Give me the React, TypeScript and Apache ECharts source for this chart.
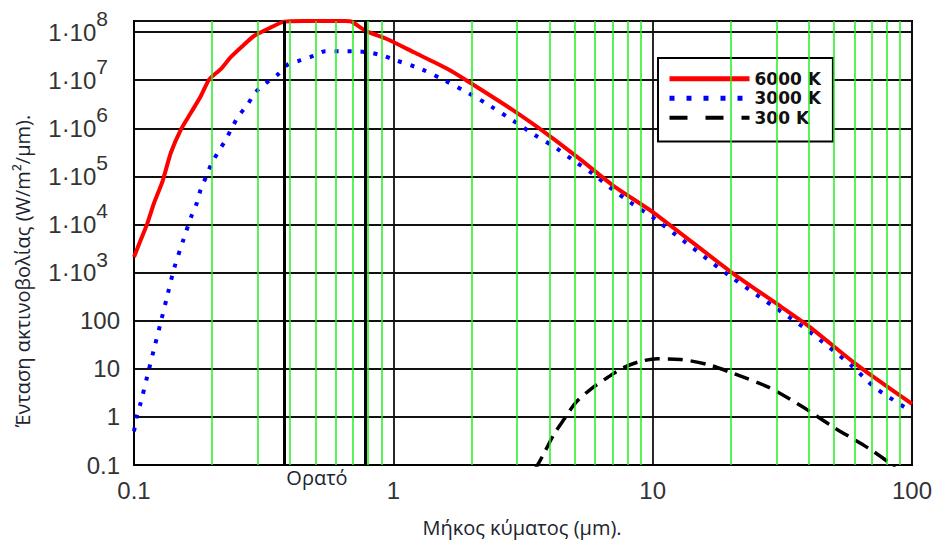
import React, { useEffect, useRef } from "react";
import * as echarts from "echarts";

// Wavelength (µm) and spectral exitance (W/m²/µm)
const wavelengths6000 = [0.1, 0.1062, 0.1127, 0.1195, 0.1288, 0.1387, 0.1516, 0.1657, 0.1811, 0.195, 0.216, 0.236, 0.262, 0.29, 0.337, 0.379, 0.45, 0.55, 0.65, 0.69, 0.783, 0.95, 1.2, 1.62, 1.93, 2.92, 3.94, 5.29, 7.1, 10.1, 20, 29.4, 39.6, 58.4, 71.5, 100];
const values6000 = [2.1e3, 4.8e3, 1.07e4, 2.8e4, 7.9e4, 3.1e5, 9.4e5, 2.1e6, 4.7e6, 1.04e7, 1.7e7, 3.0e7, 5.1e7, 8.3e7, 1.25e8, 1.65e8, 1.7e8, 1.7e8, 1.7e8, 1.65e8, 1.06e8, 7.1e7, 3.8e7, 1.7e7, 9.6e6, 2.3e6, 7.4e5, 2.2e5, 6.2e4, 1.75e4, 1.04e3, 245, 80, 14.8, 6.6, 1.86];

const wavelengths3000 = [0.1, 0.1026, 0.1062, 0.1127, 0.1195, 0.1269, 0.1346, 0.1428, 0.155, 0.167, 0.1747, 0.181, 0.19, 0.199, 0.211, 0.226, 0.2383, 0.254, 0.274, 0.293, 0.3223, 0.3575, 0.391, 0.44, 0.493, 0.549, 0.618, 0.706, 0.795, 0.9, 1.0, 1.28, 1.57, 1.96, 2.38, 2.92, 3.49, 4.24, 4.98, 5.95, 6.9, 8.11, 10.1, 20, 29.4, 39.6, 58.4, 71.5, 96, 100];
const values3000 = [0.5, 1.05, 2.0, 7.3, 26, 94, 340, 1.22e3, 4.8e3, 1.56e4, 2.8e4, 5.5e4, 1e5, 1.84e5, 3.2e5, 5.8e5, 1.02e6, 1.85e6, 3.1e6, 5.5e6, 8.6e6, 1.3e7, 2.1e7, 2.6e7, 3.2e7, 4.0e7, 4.0e7, 4.0e7, 3.8e7, 3.3e7, 2.7e7, 1.7e7, 1.0e7, 5.3e6, 2.85e6, 1.4e6, 7.4e5, 3.9e5, 2.1e5, 1.08e5, 5.7e4, 3.0e4, 1.35e4, 820, 194, 63, 11.7, 4.2, 1.46, 1.3];

const wavelengths300 = [3.5, 3.6, 3.82, 4.17, 4.56, 5.06, 5.78, 6.7, 7.76, 9.0, 10.45, 12.8, 16.3, 20.6, 27.8, 37.3, 50.1, 67.4, 82.9, 86];
const values300 = [0.08, 0.1, 0.18, 0.44, 0.9, 2.0, 3.8, 6.6, 10.7, 14.3, 16.1, 15.6, 12.3, 7.9, 4.2, 1.7, 0.6, 0.23, 0.105, 0.085];

const seriesNames = ["6000 K", "3000 K", "300 K"];
const minorGridX = [0.2, 0.3, 0.4, 0.5, 0.6, 0.7, 0.8, 0.9, 2, 3, 4, 5, 6, 7, 8, 9, 20, 30, 40, 50, 60, 70, 80, 90];
const visibleBounds = [0.38, 0.78];
const visibleLabel = "Ορατό";
const xTitle = "Μήκος κύματος (μm).";
const yTitle = "Ένταση ακτινοβολίας (W/m²/μm).";
const xMin = 0.1, xMax = 100, yMin = 0.1, yMax = 1.7e8;

const labelFont = "'Liberation Sans', Arial, sans-serif";
const titleFont = "'Open Sans', 'Noto Sans', sans-serif";

function pairs(xs: number[], ys: number[]) {
  return xs.map((x, i) => [x, ys[i]]);
}

export default function App() {
  const ref = useRef<HTMLDivElement>(null);
  useEffect(() => {
    document.body.style.margin = "0";
    const chart = echarts.init(ref.current!, undefined, { renderer: "svg" });
    chart.setOption({
      animation: false,
      backgroundColor: "#fff",
      grid: { left: 134, right: 23, top: 21, bottom: 79, show: true, borderColor: "#000", borderWidth: 2, backgroundColor: "transparent" },
      legend: {
        data: [
          { name: seriesNames[0], lineStyle: { width: 5, color: "#ff0000", type: "solid" } },
          { name: seriesNames[1], lineStyle: { width: 5, color: "#0000ff", type: [5, 12] } },
          { name: seriesNames[2], lineStyle: { width: 4, color: "#000", type: [18, 18] } },
        ],
        orient: "vertical",
        left: 658,
        top: 58,
        padding: [11, 12, 14, 9],
        itemGap: 0,
        itemWidth: 80,
        itemHeight: 10,
        backgroundColor: "#fff",
        borderColor: "#000",
        borderWidth: 2,
        borderRadius: 0,
        itemStyle: { opacity: 0 },
        textStyle: { fontFamily: "'DejaVu Sans', sans-serif", fontWeight: "bold", fontSize: 17, color: "#111", lineHeight: 19.5 },
      },
      xAxis: {
        type: "log",
        min: xMin,
        max: xMax,
        z: 1,
        axisLine: { show: true, lineStyle: { color: "#000", width: 2 } },
        axisTick: { show: false },
        splitLine: { show: true, lineStyle: { color: "#111", width: 1.8 } },
        axisLabel: {
          margin: 13,
          fontSize: 24,
          fontFamily: labelFont,
          color: "#333",
          formatter: (v: number) => {
            const e = Math.round(Math.log10(v));
            return e < 0 ? "0.1" : String(Math.pow(10, e));
          },
        },
      },
      yAxis: {
        type: "log",
        min: yMin,
        max: yMax,
        splitNumber: 10,
        z: 1,
        axisLine: { show: true, lineStyle: { color: "#000", width: 2 } },
        axisTick: { show: false },
        splitLine: { show: true, lineStyle: { color: "#111", width: 1.8 } },
        axisLabel: {
          margin: 14,
          color: "#333",
          fontFamily: labelFont,
          formatter: (v: number) => {
            const l = Math.log10(v);
            const e = Math.round(l);
            if (Math.abs(l - e) > 0.01) return "";
            if (e < 3) return "{b|" + (e < 0 ? "0.1" : String(Math.pow(10, e))) + "}";
            return "{b|1·10}{s|" + e + "}";
          },
          rich: {
            b: { fontSize: 24, lineHeight: 24, fontFamily: labelFont, color: "#333" },
            s: { fontSize: 21, lineHeight: 24, fontFamily: labelFont, color: "#333", padding: [0, 12, 27, 0] },
          },
        },
      },
      graphic: [
        { type: "text", x: 317, y: 477, style: { text: visibleLabel, fontSize: 20, fontFamily: titleFont, fill: "#1c2430", align: "center", verticalAlign: "middle" } },
        { type: "text", x: 522, y: 527, style: { text: xTitle, fontSize: 20, fontFamily: titleFont, fill: "#1c2430", align: "center", verticalAlign: "middle" } },
        { type: "text", x: 22, y: 271, rotation: Math.PI / 2, style: { text: yTitle, fontSize: 20, fontFamily: titleFont, fill: "#1c2430", align: "center", verticalAlign: "middle" } },
      ],
      series: [
        {
          type: "line",
          data: [],
          z: 0.5,
          silent: true,
          markLine: {
            silent: true,
            symbol: "none",
            label: { show: false },
            lineStyle: { color: "#22ee22", width: 1.5, type: "solid" },
            data: minorGridX.map((x) => ({ xAxis: x })),
          },
        },
        {
          type: "line",
          data: [],
          z: 1.5,
          silent: true,
          markLine: {
            silent: true,
            symbol: "none",
            label: { show: false },
            lineStyle: { color: "#000", width: 3, type: "solid" },
            data: visibleBounds.map((x) => ({ xAxis: x })),
          },
        },
        {
          name: seriesNames[2],
          type: "line",
          data: pairs(wavelengths300, values300),
          symbol: "none",
          smooth: 0.3,
          z: 2,
          lineStyle: { color: "#000", width: 3.5, type: [15, 8] },
          itemStyle: { color: "#000" },
        },
        {
          name: seriesNames[1],
          type: "line",
          data: pairs(wavelengths3000, values3000),
          symbol: "none",
          smooth: 0.3,
          z: 3,
          lineStyle: { color: "#0000ff", width: 4, type: [4, 9] },
          itemStyle: { color: "#0000ff" },
        },
        {
          name: seriesNames[0],
          type: "line",
          data: pairs(wavelengths6000, values6000),
          symbol: "none",
          smooth: 0.2,
          z: 4,
          lineStyle: { color: "#ff0000", width: 4 },
          itemStyle: { color: "#ff0000" },
        },
      ],
    });
    return () => chart.dispose();
  }, []);
  return <div ref={ref} style={{ width: 935, height: 544 }} />;
}
